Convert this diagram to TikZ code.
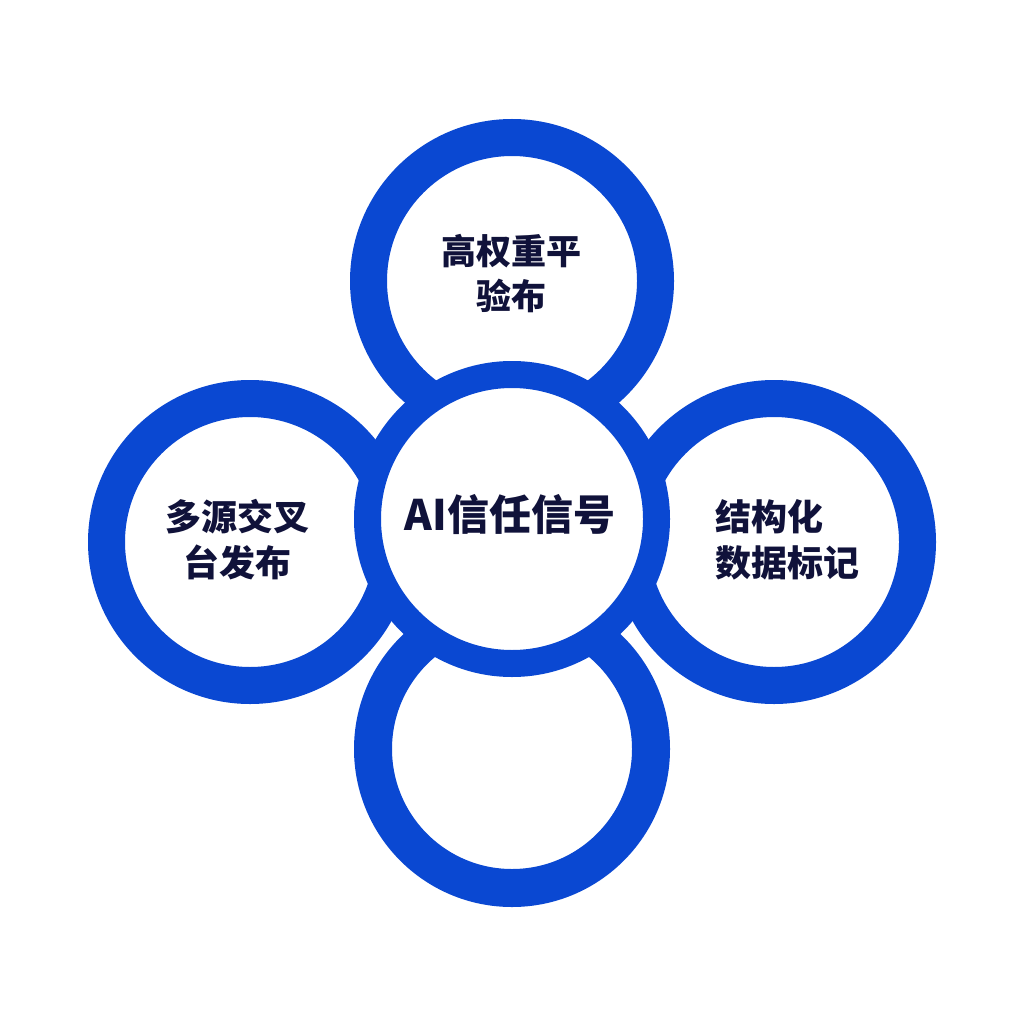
\documentclass[tikz,border=0pt]{standalone}
\usepackage{fontspec}
\newfontfamily\cjk{Noto Sans CJK SC}
\definecolor{ringblue}{HTML}{0A48D2}
\definecolor{inkblue}{HTML}{10123A}
\tikzset{
  ring/.style={circle, draw=ringblue, fill=white, line width=37pt, inner sep=0pt},
  tag/.style={text=inkblue, align=center, inner sep=0pt,
    font=\cjk\bfseries\fontsize{36}{46}\selectfont}
}

\begin{document}
\begin{tikzpicture}[x=1pt, y=-1pt]
  \useasboundingbox [fill=white] (0,0) rectangle (1024,1024);

  % outer rings
  \node [ring, minimum size=287pt] (top) at (512,281) {};
  \node [ring, minimum size=287pt] (left) at (250,542) {};
  \node [ring, minimum size=287pt] (right) at (774,542) {};
  \node [ring, minimum size=278pt, line width=38pt] (bottom) at (512,749) {};

  % hub on top of the others
  \node [ring, minimum size=289pt, line width=27pt] (hub) at (512,519) {};

  \node [tag, font=\cjk\bfseries\fontsize{35}{45}\selectfont] (top text) at (511,274)
    {高权重平\\验布};
  \node [tag] (left text) at (237,540) {多源交叉\\台发布};
  \node [tag, align=left] (right text) at (787,540) {结构化\\数据标记};
  \node [tag, font=\cjk\bfseries\fontsize{42}{50}\selectfont] (hub text) at (510,515)
    {AI信任信号};
\end{tikzpicture}
\end{document}
